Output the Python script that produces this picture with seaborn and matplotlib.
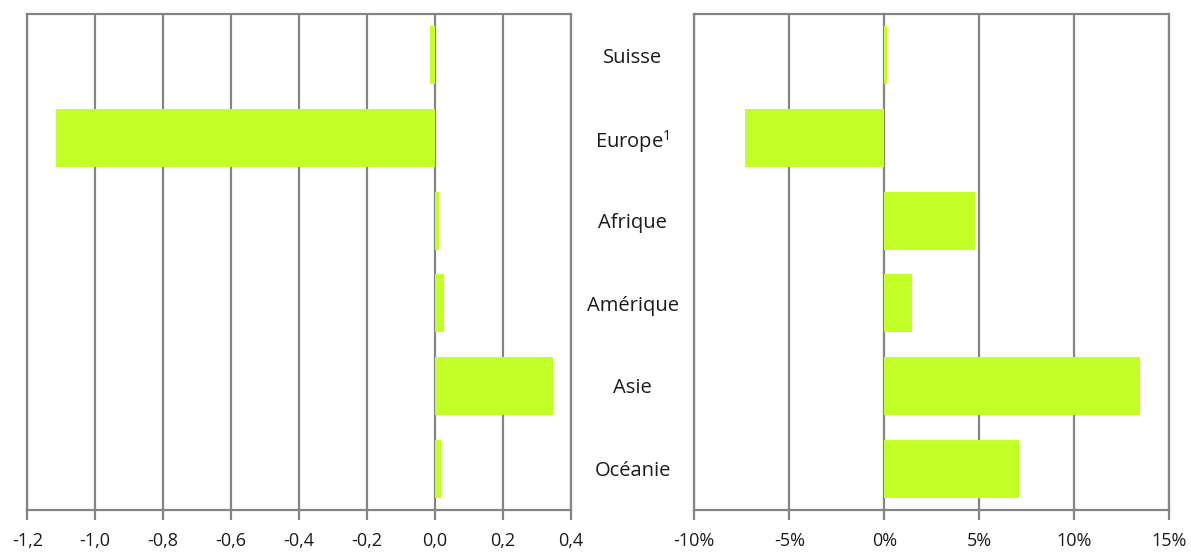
import matplotlib
matplotlib.use('Agg')
import matplotlib.pyplot as plt
import pandas as pd
import seaborn as sns

# data
regions = ['Suisse', 'Europe$^{1}$', 'Afrique', 'Amérique', 'Asie', 'Océanie']
left_values = [-0.014, -1.114, 0.013, 0.026, 0.348, 0.019]
right_values = [0.12, -7.32, 4.76, 1.44, 13.46, 7.07]

left_ticks = [-1.2, -1.0, -0.8, -0.6, -0.4, -0.2, 0.0, 0.2, 0.4]
left_tick_labels = ['-1,2', '-1,0', '-0,8', '-0,6', '-0,4', '-0,2', '0,0', '0,2', '0,4']
right_ticks = [-10, -5, 0, 5, 10, 15]
right_tick_labels = ['-10%', '-5%', '0%', '5%', '10%', '15%']

BAR = '#C1FF26'
GRID = '#848484'

sns.set_theme(style='white')
plt.rcParams['font.family'] = ['Open Sans', 'DejaVu Sans']
plt.rcParams['mathtext.fontset'] = 'custom'
plt.rcParams['mathtext.rm'] = 'Open Sans'
plt.rcParams['mathtext.default'] = 'rm'

df = pd.DataFrame({'region': regions, 'left': left_values, 'right': right_values})

fig = plt.figure(figsize=(11.91, 5.52), dpi=100)
ax1 = fig.add_axes([0.0229, 0.0761, 0.4563, 0.8986])
ax2 = fig.add_axes([0.5830, 0.0761, 0.3988, 0.8986])


def style_axis(ax, ticks, labels):
    ax.set_xlim(ticks[0], ticks[-1])
    ax.set_ylim(len(regions) - 0.5, -0.5)
    ax.set_xticks(ticks)
    ax.set_xticklabels(labels, fontsize=13, color='#1a1a1a')
    ax.set_axisbelow(True)
    ax.grid(axis='x', color=GRID, linewidth=1.6)
    ax.grid(axis='y', visible=False)
    for sp in ax.spines.values():
        sp.set_visible(True)
        sp.set_color(GRID)
        sp.set_linewidth(1.6)
    ax.tick_params(axis='x', direction='out', length=7, width=1.6,
                   color=GRID, pad=9, bottom=True)
    ax.set_xlabel('')
    ax.set_ylabel('')


sns.barplot(data=df, x='left', y='region', orient='h', color=BAR,
            width=0.7, saturation=1, linewidth=0, ax=ax1)
style_axis(ax1, left_ticks, left_tick_labels)
ax1.set_yticks([])

sns.barplot(data=df, x='right', y='region', orient='h', color=BAR,
            width=0.7, saturation=1, linewidth=0, ax=ax2)
style_axis(ax2, right_ticks, right_tick_labels)
ax2.set_yticks(range(len(regions)))
ax2.set_yticklabels(regions, fontsize=14.5, color='#1a1a1a')
ax2.tick_params(axis='y', length=0, pad=44.5)
for lab in ax2.get_yticklabels():
    lab.set_ha('center')

fig.savefig('out.png', dpi=100)
